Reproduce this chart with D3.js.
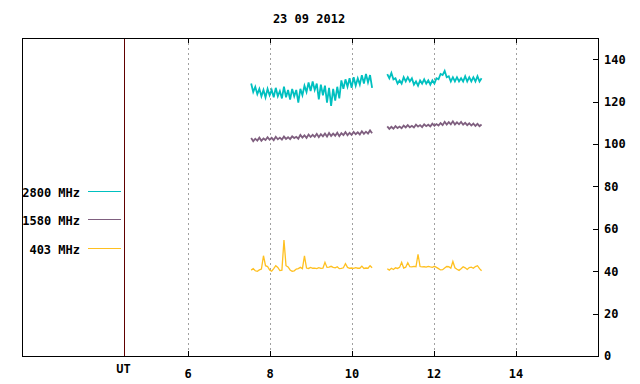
<!DOCTYPE html>
<html lang="en">
<head>
    <meta charset="UTF-8">
    <title>23 09 2012</title>
    <script src="https://cdn.jsdelivr.net/npm/d3@7"></script>
    <style type="text/css">
        body { margin: 0; background: #fff; }
        text { font-family: "DejaVu Sans Mono", "Liberation Mono", monospace; font-weight: bold; font-size: 12px; fill: #000; }
        .grid { stroke: #a0a0a0; stroke-dasharray: 2,3; }
        .series { fill: none; }
    </style>
</head>
<body>
<div id="vis"></div>
<script type="text/javascript">

    // time sampling of the records (hours UT)
    let seg1Start = 7.54, seg2Start = 10.86, sampleStep = 0.05;

    let xTicks = [6, 8, 10, 12, 14];
    let yTicks = [0, 20, 40, 60, 80, 100, 120, 140];
    let utPos = 4.45;

    let seriesNames = ["2800 MHz", "1580 MHz", "403 MHz"];
    let seriesColors = ["#00c0c0", "#7f5f7f", "#ffc020"];
    let seriesWidths = [1.8, 1.8, 1.3];

    let f2800a = [128.5,124.5,127,123.5,126,122.5,125.5,122,126,123,
        125.5,122,126.5,122.5,125,121.5,127,122,125.5,121,
        126,122.5,125.5,119.5,126,123,127.5,124.5,129,125,
        129.5,125.5,128.5,121,128,123,127.5,119.5,126.5,118,
        126,120.5,127,121.5,130,126,130.5,127,131,126.5,
        131.5,127.5,131,128,132.5,128.5,133,129,132.5,126.5];
    let f2800b = [133,131,133.5,130.5,131,128.5,130,128.5,131.5,129.5,
        131.5,129.5,131,128,129.5,127.5,130,128.5,130.5,128.5,
        130,128,130,128.5,131,130.5,133,132.5,134.5,131.5,
        132,129.5,131.5,129.5,131.5,129.5,131,129.5,132,129.5,
        131.5,129.5,131.5,129.5,132,129.5,131];

    let f1580a = [102.8,101.3,102.5,101.6,103,101.5,102.6,101.9,103.2,102,
        102.9,101.8,103.4,102.2,103,102.1,103.5,102.4,103.2,102.3,
        103.6,102.8,103.4,102.5,104.3,103,104.1,102.9,104.5,103.3,
        104.3,103.4,104.8,103.2,104.6,103.6,104.9,103.5,105.2,103.8,
        104.9,103.9,105.3,103.7,105.1,104.2,105.6,104.1,105.3,104.3,
        105.7,104.6,105.5,104.5,106,104.8,105.8,104.9,106.4,105.1];
    let f1580b = [108.3,107.1,108.1,107.2,108.4,107.5,108.2,107.4,108.7,107.8,
        108.9,107.9,108.6,107.8,109.1,108.2,108.9,108,109.3,108.4,
        109.1,108.3,109.6,108.6,109.4,108.7,109.9,108.9,110.5,109.2,
        110.3,109.3,110.7,109.2,110.2,109.3,110.4,109.1,110,108.9,
        109.8,108.7,109.6,108.5,109.5,108.4,109.2];

    let f403a = [40.5,41.2,40.2,40,40.6,41,47.3,42.6,42.2,40.6,
        40,41.2,42.6,41.8,40.3,40.5,54.7,42.6,42,40.6,
        40,40.2,41,41.2,41.8,41.2,47.2,41.5,41.3,41.8,
        41.4,41.4,41.2,41.7,41.3,41.4,44.2,41.8,41.9,42.3,
        41.8,41.6,42.1,41.2,41.3,41.6,43.6,41.8,41.4,41.5,
        41.3,41.7,41.4,41.4,42.4,41.3,41.5,41.4,42.6,41.6];
    let f403b = [41.2,40.5,41.4,40.8,41.6,41.3,41.8,44.2,41.5,41.9,
        44,42.1,42,42.3,42.1,48,42.2,42,42.1,41.9,
        42.3,42,41.8,42.3,41.8,41.2,40.6,40.7,41.5,42.2,
        42.1,41.4,44.6,41.6,40.9,40.4,41.2,42.1,41.6,40.8,
        41.7,41.9,41.4,42.2,42.6,41.2,40.2];

    let seriesSegments = [[f2800a, f2800b], [f1580a, f1580b], [f403a, f403b]];
    let segStarts = [seg1Start, seg2Start];

    let plotLeft = 22, plotRight = 598, plotTop = 38, plotBottom = 356;

    let xScale = d3.scaleLinear().domain([1.95, 16]).range([plotLeft, plotRight]);
    let yScale = d3.scaleLinear().domain([0, 150]).range([plotBottom, plotTop]);

    let svg = d3.select("#vis").append("svg")
        .attr("width", 640)
        .attr("height", 384);

    // title
    svg.append("text")
        .attr("x", 309).attr("y", 19)
        .attr("text-anchor", "middle")
        .attr("dominant-baseline", "central")
        .text("23 09 2012");

    // dotted hour grid
    svg.append("g").selectAll("line")
        .data(xTicks).enter().append("line")
        .attr("class", "grid")
        .attr("x1", d => Math.round(xScale(d)) + 0.5)
        .attr("x2", d => Math.round(xScale(d)) + 0.5)
        .attr("y1", plotTop).attr("y2", plotBottom);

    // x tick marks, bottom and top
    let xt = svg.append("g").attr("stroke", "#000").attr("shape-rendering", "crispEdges");
    xTicks.forEach(function (d) {
        let px = Math.round(xScale(d)) + 0.5;
        xt.append("line").attr("x1", px).attr("x2", px).attr("y1", plotBottom).attr("y2", plotBottom - 5);
        xt.append("line").attr("x1", px).attr("x2", px).attr("y1", plotTop).attr("y2", plotTop + 5);
    });

    // right axis with ticks pointing in
    let yAxis = d3.axisRight(yScale).tickValues(yTicks).tickSize(0).tickPadding(6);
    let ya = svg.append("g")
        .attr("transform", "translate(" + plotRight + ",0)")
        .call(yAxis);
    ya.select(".domain").remove();
    ya.selectAll("text").attr("font-family", null).attr("font-size", null);
    yTicks.forEach(function (d) {
        let py = Math.round(yScale(d)) + 0.5;
        xt.append("line").attr("x1", plotRight - 5).attr("x2", plotRight).attr("y1", py).attr("y2", py);
    });

    // x labels
    svg.append("g").selectAll("text")
        .data(xTicks).enter().append("text")
        .attr("x", d => xScale(d))
        .attr("y", 374)
        .attr("text-anchor", "middle")
        .attr("dominant-baseline", "central")
        .text(d => d);

    // UT marker line
    svg.append("line")
        .attr("x1", Math.round(xScale(utPos)) + 0.5)
        .attr("x2", Math.round(xScale(utPos)) + 0.5)
        .attr("y1", plotTop).attr("y2", plotBottom)
        .attr("stroke", "#600000")
        .attr("shape-rendering", "crispEdges");
    svg.append("text")
        .attr("x", xScale(utPos) - 1)
        .attr("y", 369)
        .attr("text-anchor", "middle")
        .attr("dominant-baseline", "central")
        .text("UT");

    // frame
    svg.append("rect")
        .attr("x", plotLeft + 0.5).attr("y", plotTop + 0.5)
        .attr("width", plotRight - plotLeft).attr("height", plotBottom - plotTop)
        .attr("fill", "none").attr("stroke", "#000")
        .attr("shape-rendering", "crispEdges");

    // series
    let line = d3.line()
        .x(d => xScale(d.t))
        .y(d => yScale(d.v));

    seriesSegments.forEach(function (segs, si) {
        segs.forEach(function (vals, k) {
            let pts = vals.map((v, i) => ({t: segStarts[k] + i * sampleStep, v: v}));
            svg.append("path")
                .datum(pts)
                .attr("class", "series")
                .attr("stroke", seriesColors[si])
                .attr("stroke-width", seriesWidths[si])
                .attr("d", line);
        });
    });

    // legend
    let legendY = [191.5, 219.5, 248.5];
    seriesNames.forEach(function (name, i) {
        svg.append("text")
            .attr("x", 80).attr("y", legendY[i] + 1)
            .attr("text-anchor", "end")
            .attr("dominant-baseline", "central")
            .text(name);
        svg.append("line")
            .attr("x1", 88).attr("x2", 121)
            .attr("y1", legendY[i]).attr("y2", legendY[i])
            .attr("stroke", seriesColors[i]);
    });
</script>
</body>
</html>
